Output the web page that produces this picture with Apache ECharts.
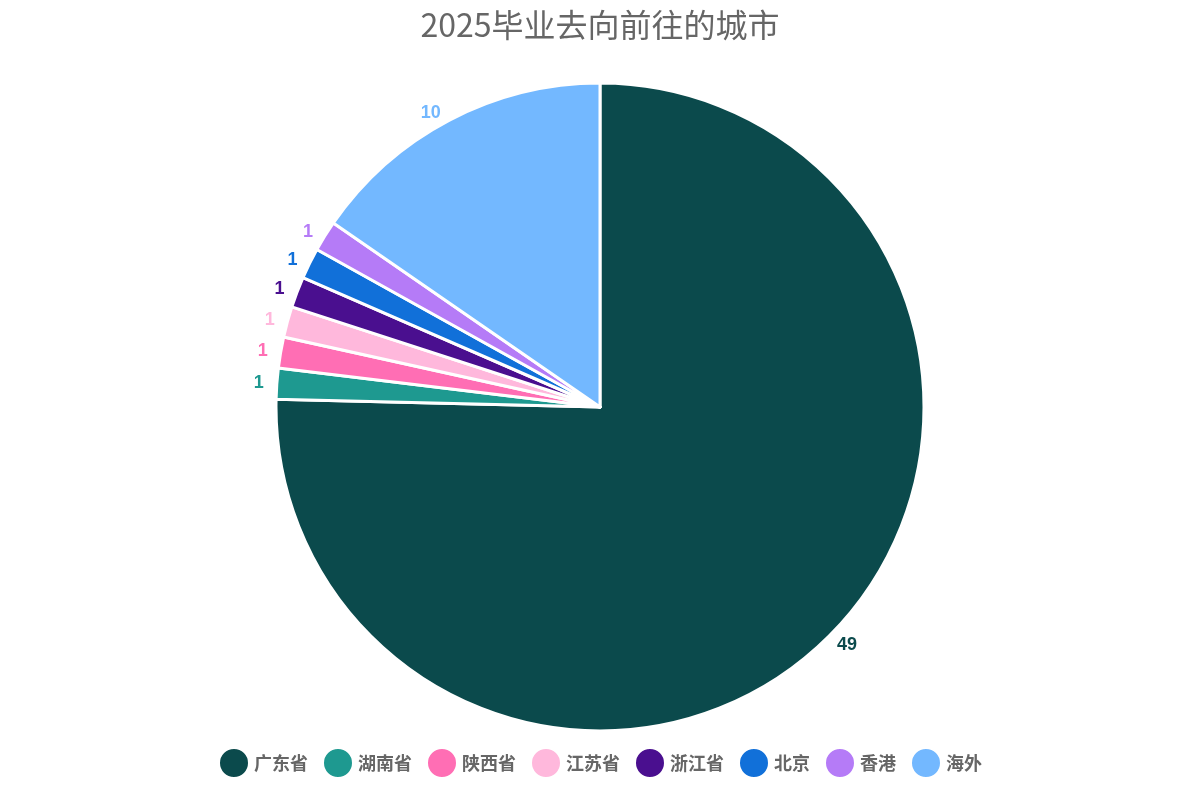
<!DOCTYPE html>
<html><head><meta charset="utf-8">
<script src="https://cdn.jsdelivr.net/npm/echarts@6/dist/echarts.min.js"></script>
<style>html,body{margin:0;padding:0;background:#fff}#c{width:1200px;height:800px}</style>
</head><body><div id="c"></div>
<script>
const categories = ['广东省','湖南省','陕西省','江苏省','浙江省','北京','香港','海外'];
const values = [49,1,1,1,1,1,1,10];
const colors = ['#0b4a4c','#1e9990','#ff6eb4','#ffb8dc','#4a0f8f','#1170d9','#b57bf7','#73b8ff'];
const chart = echarts.init(document.getElementById('c'));
chart.setOption({
  title:{text:'2025毕业去向前往的城市',left:'center',top:4,textStyle:{fontSize:32,fontWeight:'normal',color:'#666',fontFamily:'Noto Sans CJK SC'}},
  legend:{bottom:16,icon:'circle',itemWidth:30,itemHeight:30,itemGap:14,textStyle:{fontSize:18,fontWeight:'bold',color:'#666',fontFamily:'Noto Sans CJK SC'}},
  series:[{type:'pie',center:[600,407],radius:[0,324],startAngle:90,clockwise:true,
    itemStyle:{borderColor:'#fff',borderWidth:3},
    label:{show:true,position:'outside',fontSize:18,fontWeight:'bold',formatter:'{c}',color:'inherit',fontFamily:'Liberation Sans'},
    labelLine:{show:false,length:8,length2:0},
    labelLayout:{hideOverlap:true},
    data:categories.map((n,i)=>({name:n,value:values[i],itemStyle:{color:colors[i]},label:{color:colors[i]}}))
  }]
});
</script></body></html>
